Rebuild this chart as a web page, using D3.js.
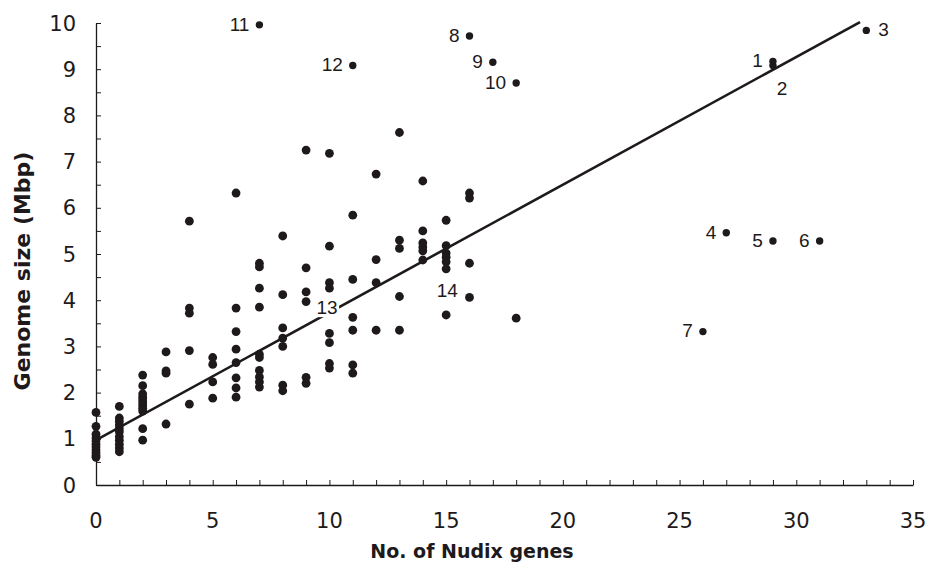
<!DOCTYPE html>
<html>
<head>
<meta charset="utf-8">
<script src="https://cdn.jsdelivr.net/npm/d3@7"></script>
<style>
  html, body { margin: 0; padding: 0; background: #fff; }
  svg { display: block; }
</style>
</head>
<body>
<svg id="chart" width="928" height="567"></svg>
<script>
// ---- data ----
const geneCounts = [0, 1, 2, 3, 4, 5, 6, 7, 8, 9, 10, 11, 12, 13, 14, 15, 16, 18];
const genomeSizes = [
  [1.57, 1.27, 1.1, 1.02, 0.95, 0.88, 0.82, 0.76, 0.7, 0.64, 0.6],
  [1.7, 1.45, 1.38, 1.3, 1.22, 1.15, 1.05, 0.97, 0.88, 0.8, 0.72],
  [2.38, 2.15, 1.97, 1.9, 1.84, 1.78, 1.72, 1.66, 1.6, 1.22, 0.97],
  [2.88, 2.47, 2.42, 1.32],
  [5.71, 3.83, 3.72, 2.91, 1.75],
  [2.76, 2.61, 2.23, 1.88],
  [6.32, 3.83, 3.32, 2.94, 2.65, 2.32, 2.1, 1.9],
  [4.8, 4.72, 4.26, 3.85, 2.83, 2.76, 2.48, 2.34, 2.23, 2.12],
  [5.39, 4.12, 3.4, 3.18, 3.0, 2.16, 2.04],
  [7.25, 4.7, 4.18, 3.97, 2.33, 2.2],
  [7.18, 5.17, 4.38, 4.26, 3.28, 3.08, 2.63, 2.53],
  [5.84, 4.45, 3.63, 3.35, 2.6, 2.42],
  [6.73, 4.88, 4.38, 3.35],
  [7.63, 5.3, 5.12, 4.08, 3.35],
  [6.58, 5.5, 5.24, 5.15, 5.07, 4.87],
  [5.73, 5.18, 5.02, 4.93, 4.83, 4.68, 3.68],
  [6.32, 6.21, 4.8, 4.06],
  [3.61]
];
const outlierIds   = ["1", "2", "3", "4", "5", "6", "7", "8", "9", "10", "11", "12"];
const outlierGenes = [29, 29, 33, 27, 29, 31, 26, 16, 17, 18, 7, 11];
const outlierSizes = [9.17, 9.08, 9.84, 5.46, 5.28, 5.28, 3.32, 9.72, 9.15, 8.7, 9.96, 9.08];
const noteIds   = ["13", "14"];
const noteGenes = [9.9, 15.05];
const noteSizes = [3.85, 4.22];
const fitIntercept = 0.97;
const fitSlope = 0.2765;
const fitRange = [0, 32.73];
const xTicksMajor = [0, 5, 10, 15, 20, 25, 30, 35];
const yTicksMajor = [0, 1, 2, 3, 4, 5, 6, 7, 8, 9, 10];

// ---- layout ----
const svg = d3.select("#chart");
const mLeft = 96, mRight = 913, mTop = 23, mBottom = 485;
const x = d3.scaleLinear().domain([0, 35]).range([mLeft, mRight]);
const y = d3.scaleLinear().domain([0, 10]).range([mBottom, mTop]);
const ink = "#1e1a1b";

const points = [];
geneCounts.forEach((g, i) => genomeSizes[i].forEach(s => points.push({g, s})));

// regression line
const fit = fitRange.map(g => ({g, s: fitIntercept + fitSlope * g}));
svg.append("path")
  .attr("d", d3.line().x(d => x(d.g)).y(d => y(d.s))(fit))
  .attr("fill", "none").attr("stroke", ink).attr("stroke-width", 2.6);

// axes
const xAxis = d3.axisBottom(x).tickValues(d3.range(0, 36, 1)).tickSize(-5).tickSizeOuter(0).tickFormat("");
const gx = svg.append("g").attr("transform", `translate(0,${mBottom})`).call(xAxis);
const yAxis = d3.axisLeft(y).tickValues(d3.range(0, 10.01, 0.5)).tickSize(-5).tickSizeOuter(0).tickFormat("");
const gy = svg.append("g").attr("transform", `translate(${mLeft},0)`).call(yAxis);
[gx, gy].forEach(g => {
  g.select(".domain").attr("stroke", ink).attr("stroke-width", 1.3);
  g.selectAll(".tick line").attr("stroke", ink).attr("stroke-width", 1);
});

// tick labels
svg.append("g").selectAll("text").data(xTicksMajor).join("text")
  .attr("x", d => x(d)).attr("y", 528)
  .attr("text-anchor", "middle")
  .attr("font-family", "DejaVu Sans").attr("font-size", 21).attr("fill", ink)
  .text(d => d);
svg.append("g").selectAll("text").data(yTicksMajor).join("text")
  .attr("x", 76).attr("y", d => y(d)).attr("dy", "0.36em")
  .attr("text-anchor", "end")
  .attr("font-family", "DejaVu Sans").attr("font-size", 21).attr("fill", ink)
  .text(d => d);

// axis titles
svg.append("text")
  .attr("x", 472).attr("y", 558).attr("text-anchor", "middle")
  .attr("font-family", "DejaVu Sans").attr("font-weight", "bold").attr("font-size", 19)
  .attr("fill", ink).text("No. of Nudix genes");
svg.append("text")
  .attr("transform", "translate(30,271) rotate(-90)").attr("text-anchor", "middle")
  .attr("font-family", "DejaVu Sans").attr("font-weight", "bold").attr("font-size", 22)
  .attr("fill", ink).text("Genome size (Mbp)");

// points
svg.append("g").selectAll("circle").data(points).join("circle")
  .attr("cx", d => x(d.g)).attr("cy", d => y(d.s)).attr("r", 4.4).attr("fill", ink);

// outliers with labels
const outliers = outlierIds.map((id, i) => ({id, g: outlierGenes[i], s: outlierSizes[i]}));
svg.append("g").selectAll("circle").data(outliers).join("circle")
  .attr("cx", d => x(d.g)).attr("cy", d => y(d.s)).attr("r", 3.7).attr("fill", ink);
const side = {"2": "below", "3": "right"};
svg.append("g").selectAll("text").data(outliers).join("text")
  .attr("x", d => side[d.id] === "right" ? x(d.g) + 12 : side[d.id] === "below" ? x(d.g) + 9 : x(d.g) - 10)
  .attr("y", d => side[d.id] === "below" ? y(d.s) + 23 : y(d.s) - 1)
  .attr("dy", "0.36em")
  .attr("text-anchor", d => side[d.id] === "right" ? "start" : side[d.id] === "below" ? "middle" : "end")
  .attr("font-family", "Liberation Sans").attr("font-size", 19).attr("fill", ink)
  .text(d => d.id);

// annotation labels on the fit line
const notes = noteIds.map((id, i) => ({id, g: noteGenes[i], s: noteSizes[i]}));
const ng = svg.append("g").selectAll("g").data(notes).join("g")
  .attr("transform", d => `translate(${x(d.g)},${y(d.s)})`);
ng.append("rect").attr("x", -12).attr("y", -10).attr("width", 24).attr("height", 20).attr("fill", "#fff");
ng.append("text").attr("text-anchor", "middle").attr("dy", "0.36em")
  .attr("font-family", "Liberation Sans").attr("font-size", 19).attr("fill", ink)
  .text(d => d.id);
</script>
</body>
</html>
